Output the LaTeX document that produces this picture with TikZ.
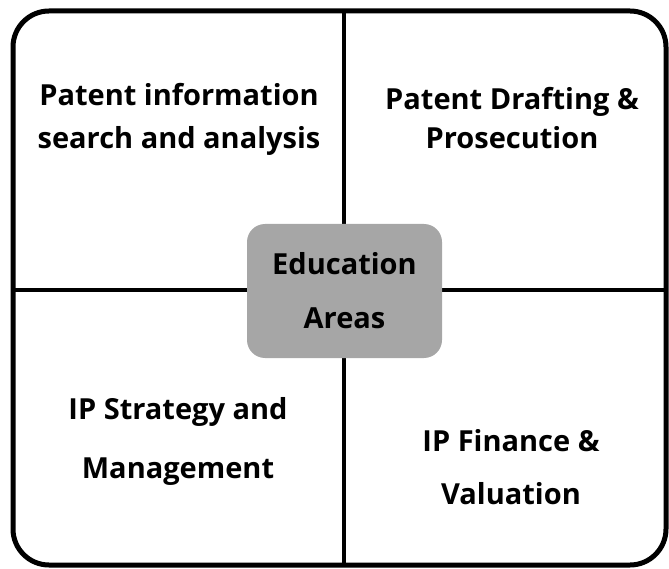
\documentclass[tikz,border=0pt]{standalone}
\usepackage{fontspec}
\setmainfont{Open Sans}
\usepackage{tikz}
\usetikzlibrary{positioning}

\begin{document}
\begin{tikzpicture}[x=1pt,y=-1pt,
    frame/.style={line width=5pt, rounded corners=36pt},
    divider/.style={line width=4.5pt},
    areabox/.style={fill=black!35, rounded corners=18pt, minimum width=195pt, minimum height=134pt},
    label/.style={align=center, font=\bfseries\fontsize{29}{#1}\selectfont}]
    \useasboundingbox (0,0) rectangle (669,569);

    % Draw frame and dividers
    \coordinate (top) at (344,11);
    \coordinate (bottom) at (344,565);
    \coordinate (left) at (13,290);
    \coordinate (right) at (666,290);
    \draw[frame] (13,11) rectangle (666,565);
    \draw[divider] (top) -- (bottom);
    \draw[divider] (left) -- (right);

    % Centre box
    \node[areabox] (edu) at (344.5,291) {};
    \node[label=54pt] (edutext) at (edu.center) {Education\\Areas};

    % Quadrant texts
    \node[label=43pt] (search) at (179,119) {Patent information\\search and analysis};
    \node[label=39pt] (drafting) at (512,118) {Patent Drafting \&\\Prosecution};
    \node[label=59pt] (strategy) at (178,441) {IP Strategy and\\Management};
    \node[label=53pt] (finance) at (511,467) {IP Finance \&\\Valuation};
\end{tikzpicture}
\end{document}
